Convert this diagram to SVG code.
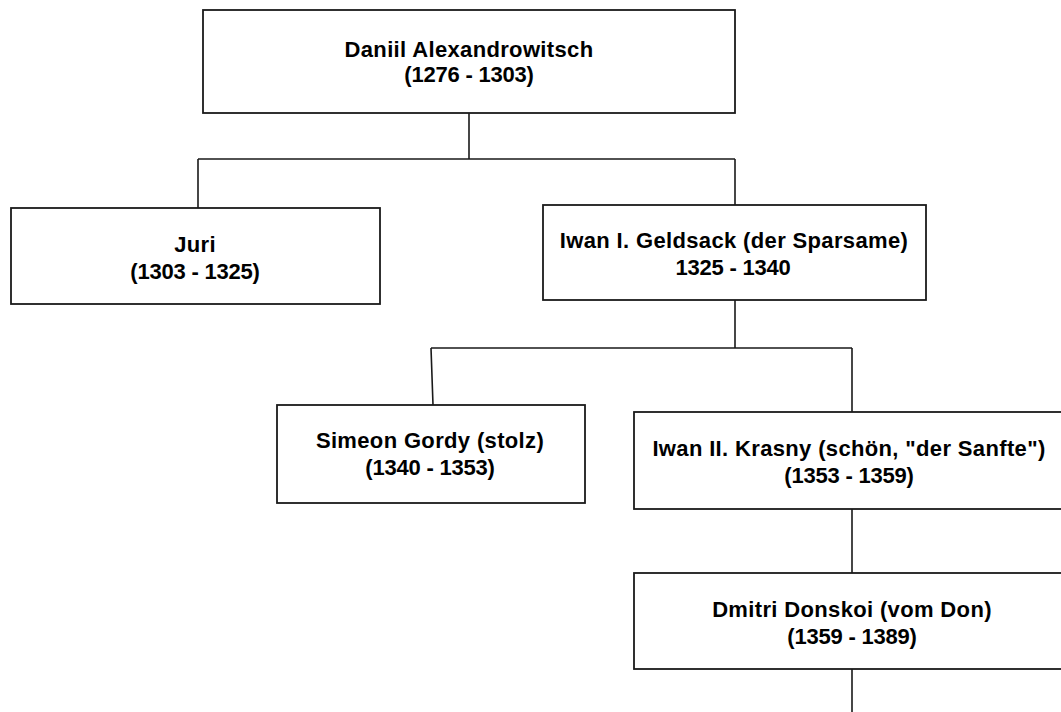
<svg xmlns="http://www.w3.org/2000/svg" width="1061" height="712" viewBox="0 0 1061 712">
<style>
.box{fill:#fff;stroke:#1a1a1a;stroke-width:1.8}
.ln{fill:none;stroke:#1a1a1a;stroke-width:1.6}
text{font-family:"Liberation Sans",Arial,sans-serif;font-weight:bold;font-size:22px;fill:#000;text-anchor:middle}
.nm{letter-spacing:0.35px}
.yr{letter-spacing:-0.2px}
</style>
<rect width="1061" height="712" fill="#fff"/>
<g id="connectors">
<path class="ln" d="M469,113 V159 M198,159 H735 M198,159 V208 M735,159 V205"/>
<path class="ln" d="M735,300 V348 M431,348 H852 M431,348 L433,405 M852,348 V412"/>
<path class="ln" d="M852,509 V573 M852,669 V712"/>
</g>
<g id="daniil">
<rect class="box" x="203" y="10" width="532" height="103"/>
<text class="nm" x="469" y="56.5">Daniil Alexandrowitsch</text>
<text class="yr" x="469" y="82">(1276 - 1303)</text>
</g>
<g id="juri">
<rect class="box" x="11" y="208" width="369" height="96"/>
<text class="nm" x="195" y="252">Juri</text>
<text class="yr" x="195" y="279">(1303 - 1325)</text>
</g>
<g id="iwan1">
<rect class="box" x="543" y="205" width="383" height="95"/>
<text class="nm" x="734" y="248">Iwan I. Geldsack (der Sparsame)</text>
<text class="yr" x="733" y="275">1325 - 1340</text>
</g>
<g id="simeon">
<rect class="box" x="277" y="405" width="308" height="98"/>
<text class="nm" x="430" y="448">Simeon Gordy (stolz)</text>
<text class="yr" x="430" y="475">(1340 - 1353)</text>
</g>
<g id="iwan2">
<rect class="box" x="634" y="412" width="440" height="97"/>
<text class="nm" x="849" y="456">Iwan II. Krasny (schön, "der Sanfte")</text>
<text class="yr" x="849" y="483">(1353 - 1359)</text>
</g>
<g id="dmitri">
<rect class="box" x="634" y="573" width="440" height="96"/>
<text class="nm" x="852" y="617">Dmitri Donskoi (vom Don)</text>
<text class="yr" x="852" y="644">(1359 - 1389)</text>
</g>
</svg>
